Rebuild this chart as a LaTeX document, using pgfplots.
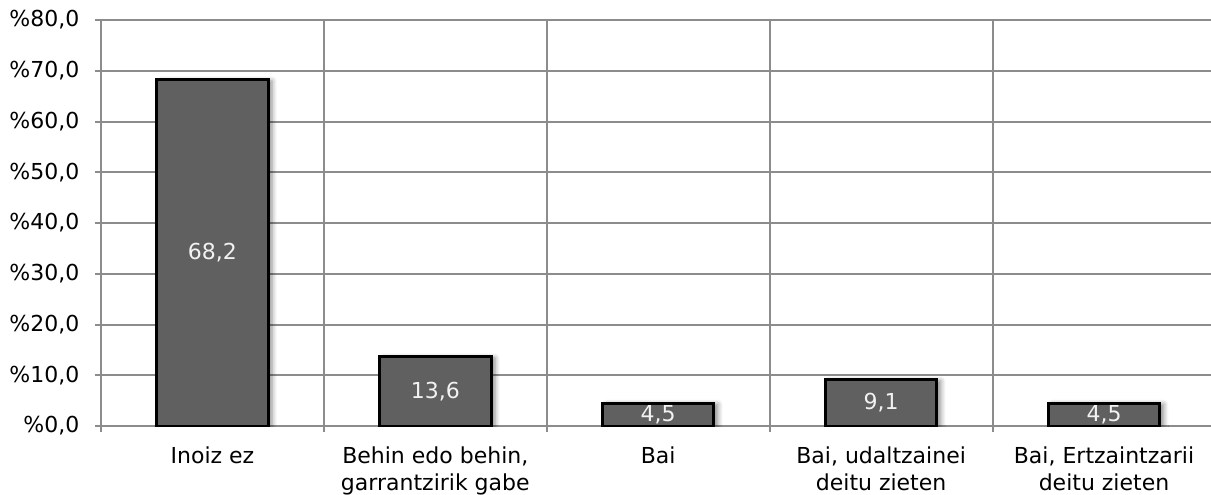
\documentclass[border=0pt]{standalone}
\usepackage{fontspec}
\setmainfont{DejaVu Sans}
\usepackage{pgfplots}
\usepackage{pgfplotstable}
\pgfplotsset{compat=1.18}
\usetikzlibrary{shadows.blur}
\pgfplotstableread{
x y
0 68.2
1 13.6
2 4.5
3 9.1
4 4.5
}\datatable
\definecolor{bargray}{HTML}{606060}
\definecolor{gridgray}{HTML}{8C8C8C}
\definecolor{labwhite}{HTML}{F2F2F2}
\begin{document}
\fontsize{11}{13}\selectfont
\begin{tikzpicture}
\begin{axis}[
  at={(0,0)}, anchor=south west,
  scale only axis, width=555pt, height=203pt,
  xmin=-0.5, xmax=4.48, ymin=0, ymax=80,
  axis lines*=left,
  axis line style={draw=gridgray, line width=1pt},
  ytick={0,10,...,80},
  ymajorgrids,
  major grid style={draw=gridgray, line width=1pt},
  xtick={0,...,4},
  xticklabels={Inoiz ez, {Behin edo behin,\\garrantzirik gabe}, Bai, {Bai, udaltzainei\\deitu zieten}, {Bai, Ertzaintzarii\\deitu zieten}},
  minor xtick={-0.5,0.5,1.5,2.5,3.5},
  xminorgrids,
  minor grid style={draw=gridgray, line width=1pt},
  tick align=outside, major tick length=3pt, minor tick length=3pt,
  major x tick style={draw=none},
  y tick style={draw=gridgray, line width=1pt},
  minor x tick style={draw=gridgray, line width=1pt},
  /pgf/number format/.cd, fixed, fixed zerofill, precision=1, use comma, assume math mode=true, /pgfplots/.cd,
  yticklabel={\%\pgfmathprintnumber{\tick}},
  yticklabel style={xshift=-4pt},
  xticklabel style={align=center, anchor=north, yshift=-3.5pt, font=\fontsize{11}{13.5}\selectfont},
]
\addplot[ybar, bar width=0.5, fill=bargray, draw=black, line width=1.5pt,
  blur shadow={shadow xshift=2pt, shadow yshift=-0.5pt, shadow blur steps=6, shadow opacity=45}]
  table[x=x, y=y]{\datatable};
\addplot[draw=none, nodes near coords={\pgfmathprintnumber{\pgfplotspointmeta}},
  point meta=\thisrow{y},
  every node near coord/.append style={anchor=center, text=labwhite}]
  table[x=x, y expr=\thisrow{y}/2]{\datatable};
\end{axis}
\pgfresetboundingbox
\path (-50.5pt,-34pt) rectangle (555pt,213pt);
\end{tikzpicture}
\end{document}
